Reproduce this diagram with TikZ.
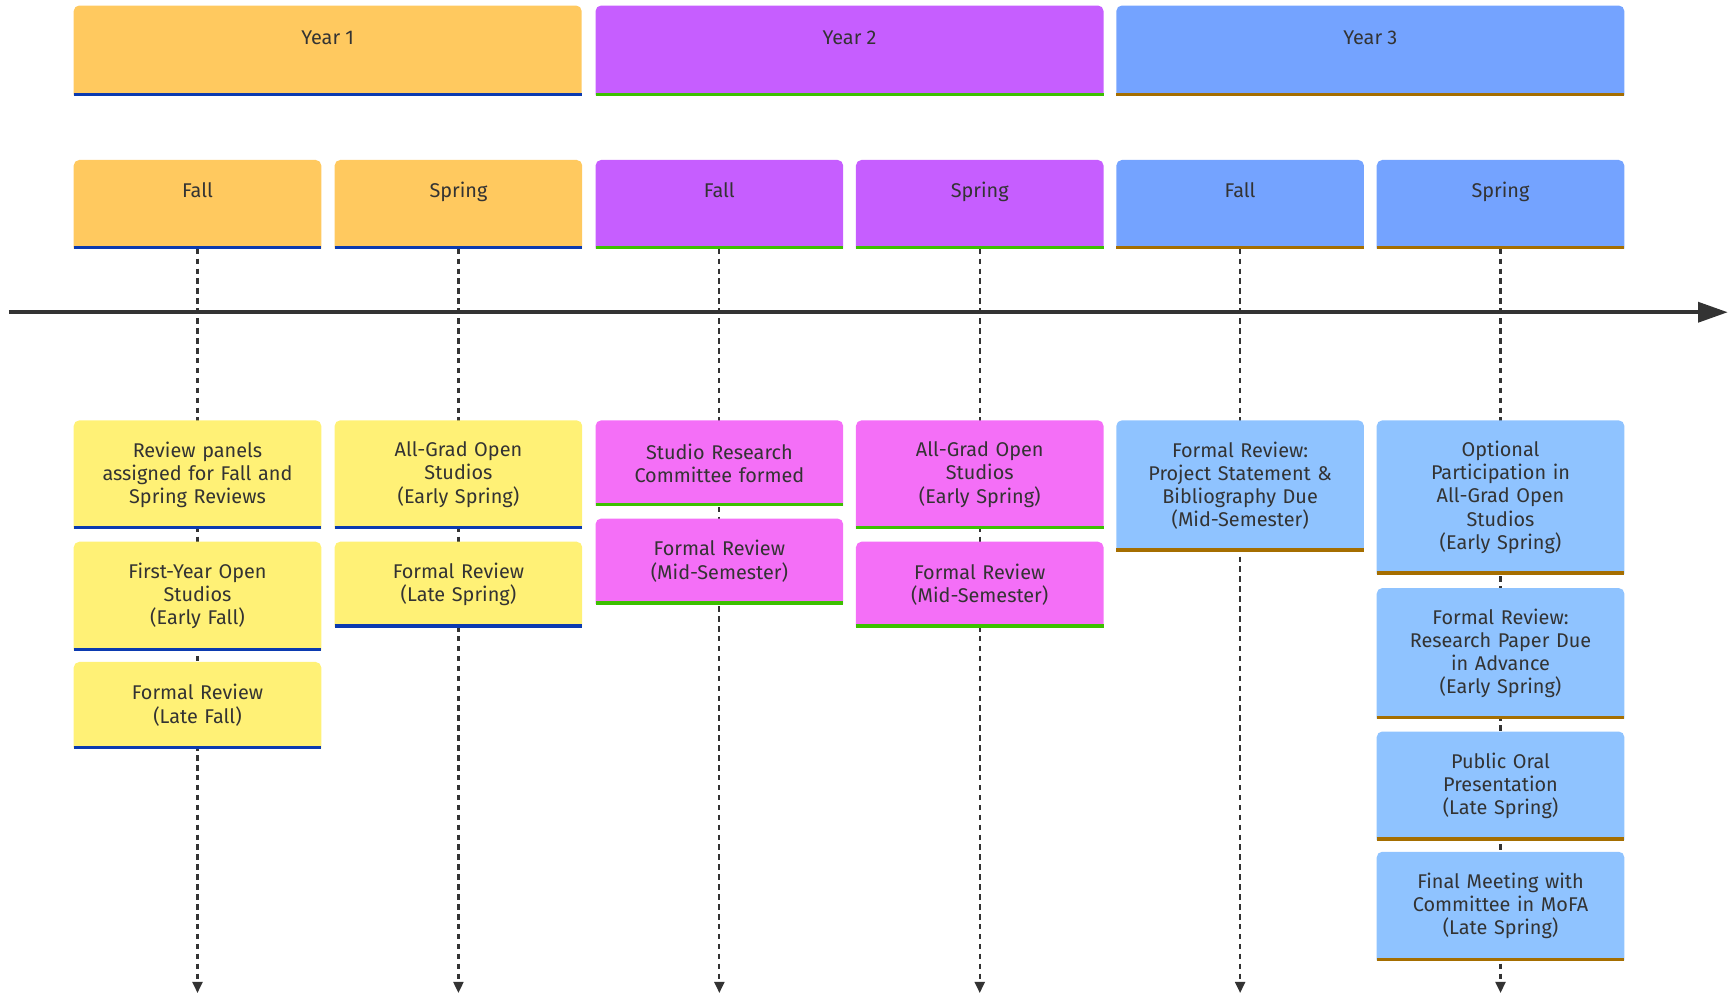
\documentclass[tikz,border=0pt]{standalone}
\usepackage{fontspec}
\setmainfont{Fira Sans}
\usetikzlibrary{arrows.meta,backgrounds}
\definecolor{txtc}{HTML}{333333}
\definecolor{hA}{HTML}{FFC95F}
\definecolor{eA}{HTML}{FFF176}
\definecolor{lA}{HTML}{0B3AB0}
\definecolor{hB}{HTML}{C65EFF}
\definecolor{eB}{HTML}{F46FF7}
\definecolor{lB}{HTML}{3CC000}
\definecolor{hC}{HTML}{74A3FF}
\definecolor{eC}{HTML}{8FC3FF}
\definecolor{lC}{HTML}{A56E00}
\begin{document}
\begin{tikzpicture}[x=1pt,y=-1pt,
  txt/.style={text=txtc, font=\fontsize{18}{21}\selectfont, align=center, inner sep=0pt},
  evt/.style={txt, minimum width=224pt, text width=220pt, minimum height=#1, anchor=north},
  sea/.style={txt, minimum width=224pt, text height=34pt, text depth=46pt, anchor=north},
  yr/.style={txt, minimum width=460pt, text height=35pt, text depth=46pt, anchor=north},
  tline/.style={draw=txtc, line width=2pt, dash pattern=on 5pt off 4pt, -{Triangle[length=10pt,width=9pt]}},
  axis/.style={draw=txtc, line width=3.6pt, -{Triangle[length=27pt,width=18pt]}}
]
\useasboundingbox (0,0) rectangle (1568,904);

% years
\node[yr] (y1) at (297,5) {Year 1};
\node[yr] (y2) at (770,5) {Year 2};
\node[yr] (y3) at (1242,5) {Year 3};

% seasons
\node[sea] (s1) at (179,145) {Fall};
\node[sea] (s2) at (415.5,145) {Spring};
\node[sea] (s3) at (652,145) {Fall};
\node[sea] (s4) at (888,145) {Spring};
\node[sea] (s5) at (1124,145) {Fall};
\node[sea] (s6) at (1360,145) {Spring};

% bottom ends of the dashed guides
\coordinate (b1) at (179,900);
\coordinate (b2) at (415.5,900);
\coordinate (b3) at (652,900);
\coordinate (b4) at (888,900);
\coordinate (b5) at (1124,900);
\coordinate (b6) at (1360,900);

% events
\node[evt=98pt] (e11) at (179,381) {Review panels\\assigned for Fall and\\Spring Reviews};
\node[evt=98pt] (e12) at (179,491) {First-Year Open\\Studios\\(Early Fall)};
\node[evt=78pt] (e13) at (179,600) {Formal Review\\(Late Fall)};

\node[evt=98pt] (e21) at (415.5,381) {All-Grad Open\\Studios\\(Early Spring)};
\node[evt=77pt] (e22) at (415.5,491) {Formal Review\\(Late Spring)};

\node[evt=77pt] (e31) at (652,381) {Studio Research\\Committee formed};
\node[evt=77pt] (e32) at (652,470) {Formal Review\\(Mid-Semester)};

\node[evt=98pt] (e41) at (888,381) {All-Grad Open\\Studios\\(Early Spring)};
\node[evt=77pt] (e42) at (888,491) {Formal Review\\(Mid-Semester)};

\node[evt=118pt] (e51) at (1124,381) {Formal Review:\\Project Statement \&\\Bibliography Due\\(Mid-Semester)};

\node[evt=139pt] (e61) at (1360,381) {Optional\\Participation in\\All-Grad Open\\Studios\\(Early Spring)};
\node[evt=118pt] (e62) at (1360,533) {Formal Review:\\Research Paper Due\\in Advance\\(Early Spring)};
\node[evt=98pt] (e63) at (1360,663) {Public Oral\\Presentation\\(Late Spring)};
\node[evt=98pt] (e64) at (1360,772) {Final Meeting with\\Committee in MoFA\\(Late Spring)};

\begin{scope}[on background layer]
  \foreach \k in {1,...,6} { \draw[tline] (s\k.south) -- (b\k); }
  \foreach \n/\c/\l in {y1/hA/lA, y2/hB/lB, y3/hC/lC,
      s1/hA/lA, s2/hA/lA, s3/hB/lB, s4/hB/lB, s5/hC/lC, s6/hC/lC,
      e11/eA/lA, e12/eA/lA, e13/eA/lA, e21/eA/lA, e22/eA/lA,
      e31/eB/lB, e32/eB/lB, e41/eB/lB, e42/eB/lB,
      e51/eC/lC, e61/eC/lC, e62/eC/lC, e63/eC/lC, e64/eC/lC} {
    \fill[\c] (\n.south west) [rounded corners=5pt] -- (\n.north west) -- (\n.north east) [sharp corners] -- (\n.south east) -- cycle;
    \draw[\l, line width=3pt] ([yshift=1pt]\n.south west) -- ([yshift=1pt]\n.south east);
  }
\end{scope}

% main time axis
\coordinate (a0) at (8,283);
\coordinate (a1) at (1566,283);
\draw[axis] (a0) -- (a1);
\end{tikzpicture}
\end{document}
